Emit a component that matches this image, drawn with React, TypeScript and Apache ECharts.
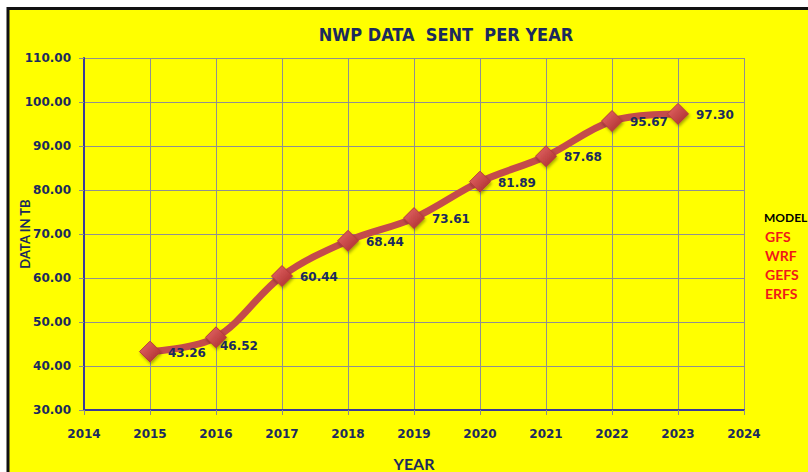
import React, { useEffect, useRef } from "react";
import * as echarts from "echarts";

const years = [2015, 2016, 2017, 2018, 2019, 2020, 2021, 2022, 2023];
const dataTB = [43.26, 46.52, 60.44, 68.44, 73.61, 81.89, 87.68, 95.67, 97.3];
const yTicks = { min: 30, max: 110, interval: 10 };
const xTicks = { min: 2014, max: 2024, interval: 1 };
const modelLabels = ["GFS", "WRF", "GEFS", "ERFS"];
const titleText = "NWP DATA  SENT  PER YEAR";

const NAVY = "#1b2a5e";

export default function App() {
  const ref = useRef<HTMLDivElement>(null);
  useEffect(() => {
    document.body.style.margin = "0";
    if (!ref.current) return;
    const chart = echarts.init(ref.current, null, { renderer: "svg" });
    const seriesData = years.map((y, i) => {
      const item: any = { value: [y, dataTB[i]] };
      if (y === 2016) {
        item.label = { offset: [-14, 9] };
      }
      return item;
    });
    const option: any = {
      animation: false,
      backgroundColor: "#ffffff",
      graphic: [
        {
          type: "rect",
          z: -10,
          shape: { x: 8, y: 8.5, width: 900, height: 500 },
          style: { fill: "#ffff00", stroke: "#111111", lineWidth: 3 },
          silent: true,
        },
        {
          type: "text",
          left: 764,
          top: 211,
          style: {
            text: "MODEL",
            fill: "#000000",
            font: "bold 12px Lato, sans-serif",
          },
        },
        ...modelLabels.map((t, i) => ({
          type: "text",
          left: 765,
          top: 229 + i * 19.2,
          style: {
            text: t,
            fill: "#f01818",
            font: "bold 14px Lato, sans-serif",
          },
        })),
      ],
      title: {
        text: titleText,
        left: 441,
        textAlign: "center",
        top: 20,
        textStyle: {
          color: NAVY,
          fontSize: 18,
          fontWeight: "bold",
          fontFamily: "'Liberation Sans Narrow', 'DejaVu Sans Condensed', sans-serif",
        },
      },
      grid: {
        left: 84,
        top: 58,
        right: 64,
        bottom: 62,
        containLabel: false,
        outerBoundsMode: "none",
      },
      xAxis: {
        type: "value",
        min: xTicks.min,
        max: xTicks.max,
        interval: xTicks.interval,
        name: "YEAR",
        nameLocation: "middle",
        nameMoveOverlap: false,
        nameGap: 45,
        nameTextStyle: {
          color: NAVY,
          fontSize: 16,
          fontWeight: "bold",
          fontFamily: "Lato, sans-serif",
          verticalAlign: "top",
        },
        axisLine: { show: true, onZero: false, lineStyle: { color: "#3a3a9a", width: 2 } },
        axisTick: { show: true, length: 5, lineStyle: { color: "#8c8c8c" } },
        axisLabel: {
          color: NAVY,
          fontSize: 12,
          fontWeight: "bold",
          fontFamily: "'DejaVu Sans', sans-serif",
          margin: 18,
          formatter: (v: number) => String(v),
        },
        splitLine: { show: true, lineStyle: { color: "#909090", width: 1 } },
      },
      yAxis: {
        type: "value",
        min: yTicks.min,
        max: yTicks.max,
        interval: yTicks.interval,
        name: "DATA IN TB",
        nameLocation: "middle",
        nameMoveOverlap: false,
        nameGap: 53,
        nameTextStyle: {
          color: NAVY,
          fontSize: 13,
          fontWeight: "bold",
          fontFamily: "Lato, sans-serif",
        },
        axisLine: { show: true, lineStyle: { color: "#3a3a9a", width: 2 } },
        axisTick: { show: true, length: 5, lineStyle: { color: "#8c8c8c" } },
        axisLabel: {
          color: NAVY,
          fontSize: 12,
          fontWeight: "bold",
          fontFamily: "'DejaVu Sans', sans-serif",
          margin: 13,
          formatter: (v: number) => v.toFixed(2),
        },
        splitLine: { show: true, lineStyle: { color: "#909090", width: 1 } },
      },
      series: [
        {
          type: "line",
          data: seriesData,
          smooth: 0.35,
          symbol: "diamond",
          symbolSize: 21,
          lineStyle: { color: "#c44b4b", width: 7 },
          itemStyle: {
            color: new echarts.graphic.LinearGradient(0, 0, 1, 1, [
              { offset: 0, color: "#e86a6a" },
              { offset: 1, color: "#a82a2a" },
            ]),
            borderColor: "#b33a3a",
            borderWidth: 1,
            shadowColor: "rgba(0,0,0,0.35)",
            shadowBlur: 3,
            shadowOffsetX: 1,
            shadowOffsetY: 2,
          },
          label: {
            show: true,
            position: "right",
            distance: 7,
            offset: [0, 1],
            color: NAVY,
            fontSize: 12,
            fontWeight: "bold",
            fontFamily: "'DejaVu Sans', sans-serif",
            formatter: (p: any) => p.value[1].toFixed(2),
          },
        },
      ],
    };
    chart.setOption(option);
    return () => chart.dispose();
  }, []);
  return <div ref={ref} style={{ width: 808, height: 472 }} />;
}
